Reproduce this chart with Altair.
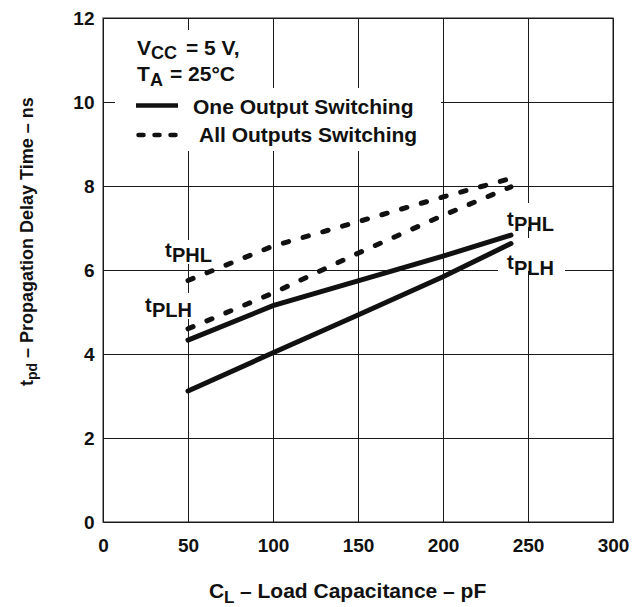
import altair as alt
import pandas as pd

# Load capacitance (pF) at which the curves are read
cap_pf = [50, 100, 150, 200, 240]

# Propagation delay time (ns), VCC = 5 V, TA = 25 °C
one_tphl = [4.33, 5.15, 5.74, 6.33, 6.83]
one_tplh = [3.12, 4.03, 4.93, 5.84, 6.63]
all_tphl = [5.75, 6.57, 7.15, 7.74, 8.18]
all_tplh = [4.60, 5.45, 6.40, 7.30, 7.98]

x_ticks = [0, 50, 100, 150, 200, 250, 300]
y_ticks = [0, 2, 4, 6, 8, 10, 12]

rows = []
for mode, edge, vals in [
    ("one", "tPHL", one_tphl),
    ("one", "tPLH", one_tplh),
    ("all", "tPHL", all_tphl),
    ("all", "tPLH", all_tplh),
]:
    for c, v in zip(cap_pf, vals):
        rows.append({"mode": mode, "edge": edge, "cap": c, "tpd": v})
df = pd.DataFrame(rows)

FONT = "Liberation Sans"
INK = "#111111"
W, H = 510, 504          # plot area
LEFT, TOP = 103, 18      # plot origin inside the 633 x 607 page

axis_common = dict(
    title=None, grid=True, gridColor="#1a1a1a", gridWidth=1, domain=False,
    ticks=False, labelFont=FONT, labelFontSize=19, labelFontWeight="bold",
    labelColor=INK, labelFlush=False, labelOverlap=False, zindex=0,
)
x_enc = alt.X("cap:Q", scale=alt.Scale(domain=[0, 300], nice=False, zero=False),
              axis=alt.Axis(values=x_ticks, labelPadding=14, **axis_common))
y_enc = alt.Y("tpd:Q", scale=alt.Scale(domain=[0, 12], nice=False),
              axis=alt.Axis(values=y_ticks, labelPadding=9, **axis_common))


def one_row():
    return pd.DataFrame({"k": [0]})


def txt(text, px, py, size, angle=None):
    """Bold text whose left end / baseline sits at page pixel (px, py)."""
    kw = dict(text=text, font=FONT, fontSize=size, fontWeight="bold",
              color=INK, align="left", baseline="alphabetic")
    if angle is not None:
        kw["angle"] = angle
    return alt.Chart(one_row()).mark_text(**kw).encode(
        x=alt.value(px - LEFT), y=alt.value(py - TOP))


def blank(x0, x1, y0, y1):
    """White patch behind annotation text (page pixels)."""
    return alt.Chart(one_row()).mark_rect(fill="white", stroke=None).encode(
        x=alt.value(x0 - LEFT), x2=alt.value(x1 - LEFT),
        y=alt.value(y0 - TOP), y2=alt.value(y1 - TOP))


def sample(x0, x1, y, dash=None):
    kw = dict(color=INK, strokeWidth=4.5)
    if dash:
        kw.update(strokeDash=dash, strokeCap="round")
    return alt.Chart(one_row()).mark_rule(**kw).encode(
        x=alt.value(x0 - LEFT), x2=alt.value(x1 - LEFT), y=alt.value(y - TOP))


boxes = [
    blank(115, 250, 30, 88),
    blank(115, 441, 88, 151),
    blank(163, 218, 240, 264),
    blank(143, 198, 293, 319),
    blank(505, 562, 203, 227),
    blank(498, 565, 238, 271),
]

solid = alt.Chart(df).transform_filter(alt.datum.mode == "one").mark_line(
    color=INK, strokeWidth=5, strokeCap="round"
).encode(x=x_enc, y=y_enc, detail="edge:N", order="cap:Q")

dashed = alt.Chart(df).transform_filter(alt.datum.mode == "all").mark_line(
    color=INK, strokeWidth=5, strokeCap="round", strokeDash=[5.5, 15]
).encode(x=x_enc, y=y_enc, detail="edge:N", order="cap:Q")

curve_labels = [
    txt("t", 165, 257, 20), txt("PHL", 172, 262, 20),
    txt("t", 145, 312, 20), txt("PLH", 152, 317, 20),
    txt("t", 507, 226, 20), txt("PHL", 514, 231, 20),
    txt("t", 507, 269, 20), txt("PLH", 514, 275, 20),
]

legend = [
    txt("V", 137, 55, 21), txt("CC", 151, 59, 18), txt("= 5 V,", 186, 55, 21),
    txt("T", 137, 81, 21), txt("A", 150, 86, 18), txt("= 25°C", 170, 81, 21),
    sample(136, 178, 105.5),
    txt("One Output Switching", 193, 114, 21),
    sample(138.5, 176, 135, dash=[5, 11]),
    txt("All Outputs Switching", 199, 142, 21),
]

titles = [
    # x title: C_L – Load Capacitance – pF
    txt("C", 209, 598, 21), txt("L", 224, 603, 17),
    txt("– Load Capacitance – pF", 240, 598, 21),
    # y title, reading upward: t_pd – Propagation Delay Time – ns
    txt("t", 33, 386, 18, angle=270), txt("pd", 37, 380, 14, angle=270),
    txt("– Propagation Delay Time – ns", 33, 358, 18, angle=270),
]

chart = alt.layer(
    *boxes, solid, dashed, *curve_labels, *legend, *titles
).properties(
    width=W, height=H, background="white",
    autosize=alt.AutoSizeParams(type="none"),
    padding={"left": LEFT, "top": TOP, "right": 633 - LEFT - W,
             "bottom": 607 - TOP - H},
).configure_view(stroke="#6b6b6b", strokeWidth=1.5)

chart.save("out.html", embed_options={"renderer": "svg", "actions": False})
